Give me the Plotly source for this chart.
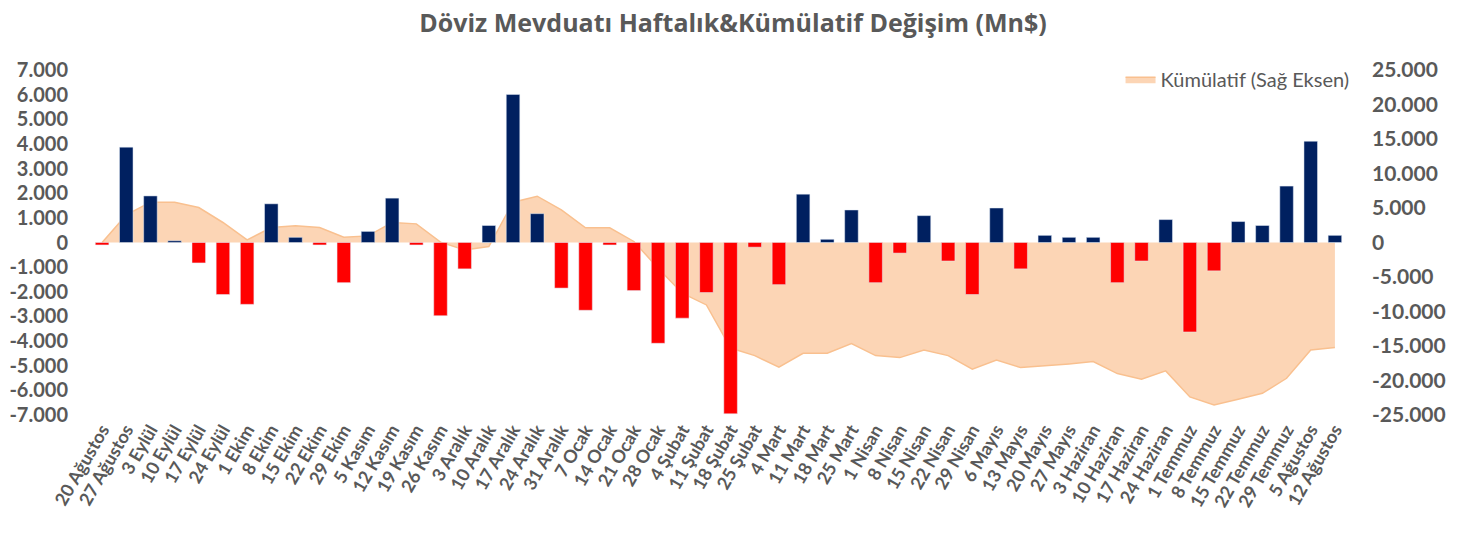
import plotly.graph_objects as go

weeks = [
    "20 Ağustos", "27 Ağustos", "3 Eylül", "10 Eylül", "17 Eylül", "24 Eylül",
    "1 Ekim", "8 Ekim", "15 Ekim", "22 Ekim", "29 Ekim", "5 Kasım", "12 Kasım",
    "19 Kasım", "26 Kasım", "3 Aralık", "10 Aralık", "17 Aralık", "24 Aralık",
    "31 Aralık", "7 Ocak", "14 Ocak", "21 Ocak", "28 Ocak", "4 Şubat",
    "11 Şubat", "18 Şubat", "25 Şubat", "4 Mart", "11 Mart", "18 Mart",
    "25 Mart", "1 Nisan", "8 Nisan", "15 Nisan", "22 Nisan", "29 Nisan",
    "6 Mayıs", "13 Mayıs", "20 Mayıs", "27 Mayıs", "3 Haziran", "10 Haziran",
    "17 Haziran", "24 Haziran", "1 Temmuz", "8 Temmuz", "15 Temmuz",
    "22 Temmuz", "29 Temmuz", "5 Ağustos", "12 Ağustos",
]

weekly = [
    -100, 3870, 1890, 70, -830, -2110, -2510, 1570, 210, -100, -1630, 450,
    1800, -100, -2970, -1070, 690, 6010, 1170, -1850, -2750, -100, -1950,
    -4090, -3070, -2030, -6950, -190, -1710, 1960, 130, 1320, -1630, -430,
    1090, -750, -2110, 1400, -1070, 290, 210, 210, -1630, -750, 930, -3630,
    -1150, 850, 690, 2290, 4110, 290,
]

cumulative = [
    0, 4000, 5840, 5840, 5070, 2900, 380, 2170, 2410, 2170, 770, 960, 2900,
    2700, 50, -1070, -580, 5840, 6710, 4730, 2120, 2120, 150, -3730, -7350,
    -9050, -15300, -16390, -18080, -16050, -16050, -14650, -16390, -16680,
    -15570, -16390, -18370, -17020, -18130, -17890, -17600, -17260, -19000,
    -19820, -18610, -22380, -23550, -22720, -21850, -19680, -15570, -15230,
]

left_ticks = list(range(-7000, 7001, 1000))
right_ticks = list(range(-25000, 25001, 5000))


def fmt(v):
    return f"{v:,}".replace(",", ".")


grey = "#595959"
font = "Lato"

fig = go.Figure()

# cumulative area on the primary (right side) axis so that bars draw on top
fig.add_trace(
    go.Scatter(
        x=weeks,
        y=cumulative,
        name="Kümülatif (Sağ Eksen)",
        mode="lines",
        fill="tozeroy",
        fillcolor="#FCD5B5",
        line=dict(color="#F9C08F", width=1.5),
        yaxis="y",
    )
)

fig.add_trace(
    go.Bar(
        x=weeks,
        y=weekly,
        marker=dict(color=["#002060" if v >= 0 else "#FF0000" for v in weekly]),
        showlegend=False,
        yaxis="y2",
    )
)

fig.update_layout(
    width=1450,
    height=533,
    margin=dict(l=82, r=111, t=62, b=126),
    paper_bgcolor="white",
    plot_bgcolor="white",
    bargap=0.44,
    font=dict(family=font, color=grey),
    title=dict(
        text="Döviz Mevduatı Haftalık&Kümülatif Değişim (Mn$)",
        x=0.5,
        xref="container",
        xanchor="center",
        y=0.972,
        yref="container",
        yanchor="middle",
        font=dict(family="Open Sans", size=25, color=grey, weight="bold"),
    ),
    legend=dict(
        x=1.006,
        xanchor="right",
        y=1.03,
        yanchor="top",
        font=dict(size=20, color=grey),
        bgcolor="rgba(0,0,0,0)",
    ),
    xaxis=dict(
        type="category",
        tickangle=-60,
        tickfont=dict(size=18, color=grey, weight="bold"),
        showgrid=False,
        showline=False,
        ticks="",
        automargin=False,
        range=[-0.5, len(weeks) - 0.5],
    ),
    yaxis=dict(
        side="right",
        range=[-25000, 25000],
        tickvals=right_ticks,
        ticktext=[fmt(v) for v in right_ticks],
        tickfont=dict(size=21, color=grey, weight="bold"),
        showgrid=False,
        zeroline=False,
        automargin=False,
        ticklabelstandoff=24,
    ),
    yaxis2=dict(
        side="left",
        overlaying="y",
        range=[-7000, 7000],
        tickvals=left_ticks,
        ticktext=[fmt(v) for v in left_ticks],
        tickfont=dict(size=20, color=grey, weight="bold"),
        showgrid=False,
        zeroline=False,
        automargin=False,
        ticklabelstandoff=21,
    ),
)

fig.write_html("out.html")
